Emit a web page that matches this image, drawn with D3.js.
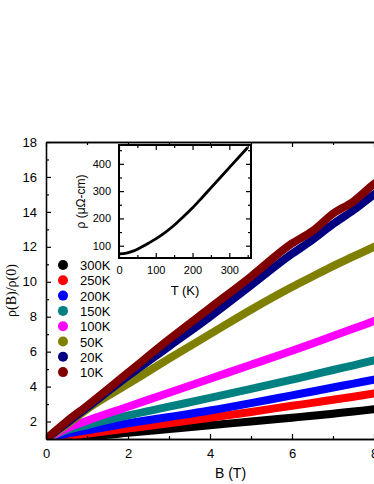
<!DOCTYPE html>
<html>
<head>
<meta charset="utf-8">
<script src="https://cdn.jsdelivr.net/npm/d3@7"></script>
<style>
  body { margin: 0; background: #fff; }
  svg { font-family: "Liberation Sans", Arial, sans-serif; }
</style>
</head>
<body>
<div class="chart"></div>
<script>
const width = 374, height = 484;

// main panel data: rho(B)/rho(0) vs B for each temperature
const fields = [0, 0.5, 1, 2, 3, 4, 5, 6, 6.5, 7, 7.5, 8, 8.2];
const temps = ["300K", "250K", "200K", "150K", "100K", "50K", "20K", "10K"];
const colors = ["#000000", "#ff0000", "#0000ff", "#008080", "#ff00ff", "#808000", "#000080", "#800000"];
const mr300 = [1, 1.08, 1.15, 1.35, 1.57, 1.79, 2.0, 2.22, 2.33, 2.45, 2.57, 2.7, 2.75];
const mr250 = [1, 1.15, 1.3, 1.6, 1.9, 2.22, 2.55, 2.9, 3.07, 3.25, 3.42, 3.6, 3.67];
const mr200 = [1, 1.3, 1.5, 1.9, 2.26, 2.63, 3.05, 3.5, 3.72, 3.95, 4.17, 4.4, 4.49];
const mr150 = [1, 1.5, 1.8, 2.35, 2.85, 3.35, 3.87, 4.4, 4.67, 4.95, 5.22, 5.5, 5.61];
const mr100 = [1, 1.6, 2.05, 2.85, 3.65, 4.45, 5.25, 6.05, 6.47, 6.9, 7.32, 7.75, 7.92];
const mr50 = [1, 1.8, 2.7, 4.15, 5.6, 7.0, 8.4, 9.7, 10.3, 10.9, 11.45, 12.0, 12.22];
const mr20 = [1, 1.9, 2.8, 4.6, 6.3, 8.0, 9.8, 11.6, 12.4, 13.3, 14.1, 15.0, 15.35];
const mr10 = [1, 2.0, 2.9, 4.8, 6.7, 8.5, 10.3, 12.2, 12.9, 13.9, 14.6, 15.6, 15.95];
const series = [mr300, mr250, mr200, mr150, mr100, mr50, mr20, mr10];

// inset data: rho (uOhm-cm) vs T (K)
const insetT = [0, 20, 40, 60, 80, 100, 125, 150, 175, 200, 225, 250, 275, 300, 325, 350];
const insetRho = [70, 73, 81, 94, 109, 125, 148, 175, 206, 239, 275, 312, 349, 386, 423, 460];

const svg = d3.select(".chart").append("svg")
    .attr("width", width)
    .attr("height", height);

const x = d3.scaleLinear().domain([0, 9]).range([46, 415]);
const y = d3.scaleLinear().domain([1, 18]).range([439, 142]);

svg.append("clipPath").attr("id", "plot-clip")
  .append("rect")
    .attr("x", x(0)).attr("y", y(18))
    .attr("width", x(9) - x(0)).attr("height", y(1) - y(18));

const line = d3.line()
    .x((d, i) => x(fields[i]))
    .y(d => y(d))
    .curve(d3.curveMonotoneX);

svg.append("g")
    .attr("clip-path", "url(#plot-clip)")
  .selectAll("path")
  .data(series)
  .enter().append("path")
    .attr("d", line)
    .attr("fill", "none")
    .attr("stroke", (d, i) => colors[i])
    .attr("stroke-width", 8);

// main axes
function addAxis(axis, transform) {
  const g = svg.append("g").attr("transform", transform).call(axis);
  g.select(".domain").attr("stroke", "#000").attr("stroke-width", 1.3);
  g.selectAll(".tick line").attr("stroke", "#000").attr("stroke-width", 1.2);
  return g;
}
const fontMain = "13px";

const xa = addAxis(d3.axisBottom(x).tickValues([0, 2, 4, 6, 8]).tickSize(-5).tickPadding(10).tickSizeOuter(0),
    `translate(0,${y(1)})`);
xa.selectAll("text").attr("font-size", fontMain).attr("fill", "#000");
addAxis(d3.axisBottom(x).tickValues([1, 3, 5, 7]).tickSize(-3).tickFormat("").tickSizeOuter(0),
    `translate(0,${y(1)})`);

const ya = addAxis(d3.axisLeft(y).tickValues([2, 4, 6, 8, 10, 12, 14, 16, 18]).tickSize(-5).tickPadding(9).tickSizeOuter(0),
    `translate(${x(0)},0)`);
ya.selectAll("text").attr("font-size", fontMain).attr("fill", "#000");
addAxis(d3.axisLeft(y).tickValues(d3.range(3, 18, 2)).tickSize(-3).tickFormat("").tickSizeOuter(0),
    `translate(${x(0)},0)`);

addAxis(d3.axisTop(x).tickValues([0, 2, 4, 6, 8]).tickSize(-5).tickFormat("").tickSizeOuter(0),
    `translate(0,${y(18)})`);
addAxis(d3.axisTop(x).tickValues([1, 3, 5, 7]).tickSize(-3).tickFormat("").tickSizeOuter(0),
    `translate(0,${y(18)})`);

svg.append("text")
    .attr("x", (x(0) + x(9)) / 2).attr("y", 478)
    .attr("text-anchor", "middle").attr("font-size", "14px")
    .text("B (T)");
svg.append("text")
    .attr("transform", `translate(16,${(y(1) + y(18)) / 2}) rotate(-90)`)
    .attr("text-anchor", "middle").attr("font-size", "14px")
    .style("font-family", "'Liberation Serif', serif")
    .text("ρ(B)/ρ(0)");

// legend
const legend = svg.append("g")
  .selectAll("g")
  .data(temps)
  .enter().append("g")
    .attr("transform", (d, i) => `translate(63,${265 + i * 15.3})`);
legend.append("circle")
    .attr("r", 5)
    .attr("fill", (d, i) => colors[i]);
legend.append("text")
    .attr("x", 17).attr("y", 5)
    .attr("font-size", fontMain)
    .text(d => d);

// inset
const ix = d3.scaleLinear().domain([0, 359]).range([119, 251]);
const iy = d3.scaleLinear().domain([55, 469]).range([258, 145]);

svg.append("rect")
    .attr("x", ix(0)).attr("y", iy(469))
    .attr("width", ix(359) - ix(0)).attr("height", iy(55) - iy(469))
    .attr("fill", "#fff");

svg.append("path")
    .datum(insetT)
    .attr("d", d3.line().x(d => ix(d)).y((d, i) => iy(insetRho[i])).curve(d3.curveMonotoneX))
    .attr("fill", "none")
    .attr("stroke", "#000")
    .attr("stroke-width", 2.8);

function addInsetAxis(axis, transform) {
  const g = svg.append("g").attr("transform", transform).call(axis);
  g.select(".domain").remove();
  g.selectAll(".tick line").attr("stroke", "#000").attr("stroke-width", 1.2);
  g.selectAll("text").attr("font-size", "11px").attr("fill", "#000");
  return g;
}
addInsetAxis(d3.axisBottom(ix).tickValues([0, 100, 200, 300]).tickSize(-5).tickPadding(8), `translate(0,${iy(55)})`);
addInsetAxis(d3.axisBottom(ix).tickValues([50, 150, 250, 350]).tickSize(-3).tickFormat(""), `translate(0,${iy(55)})`);
addInsetAxis(d3.axisTop(ix).tickValues([0, 100, 200, 300]).tickSize(-5).tickFormat(""), `translate(0,${iy(469)})`);
addInsetAxis(d3.axisTop(ix).tickValues([50, 150, 250, 350]).tickSize(-3).tickFormat(""), `translate(0,${iy(469)})`);
addInsetAxis(d3.axisLeft(iy).tickValues([100, 200, 300, 400]).tickSize(-5).tickPadding(8), `translate(${ix(0)},0)`);
addInsetAxis(d3.axisLeft(iy).tickValues([150, 250, 350, 450]).tickSize(-3).tickFormat(""), `translate(${ix(0)},0)`);
addInsetAxis(d3.axisRight(iy).tickValues([100, 200, 300, 400]).tickSize(-5).tickFormat(""), `translate(${ix(359)},0)`);
addInsetAxis(d3.axisRight(iy).tickValues([150, 250, 350, 450]).tickSize(-3).tickFormat(""), `translate(${ix(359)},0)`);

svg.append("rect")
    .attr("x", ix(0)).attr("y", iy(469))
    .attr("width", ix(359) - ix(0)).attr("height", iy(55) - iy(469))
    .attr("fill", "none")
    .attr("stroke", "#000")
    .attr("stroke-width", 2);

svg.append("text")
    .attr("x", (ix(0) + ix(359)) / 2).attr("y", 295)
    .attr("text-anchor", "middle").attr("font-size", "13px")
    .text("T (K)");
svg.append("text")
    .attr("transform", `translate(85,${(iy(55) + iy(469)) / 2}) rotate(-90)`)
    .attr("text-anchor", "middle").attr("font-size", "12px")
    .text("ρ (μΩ-cm)");
</script>
</body>
</html>
